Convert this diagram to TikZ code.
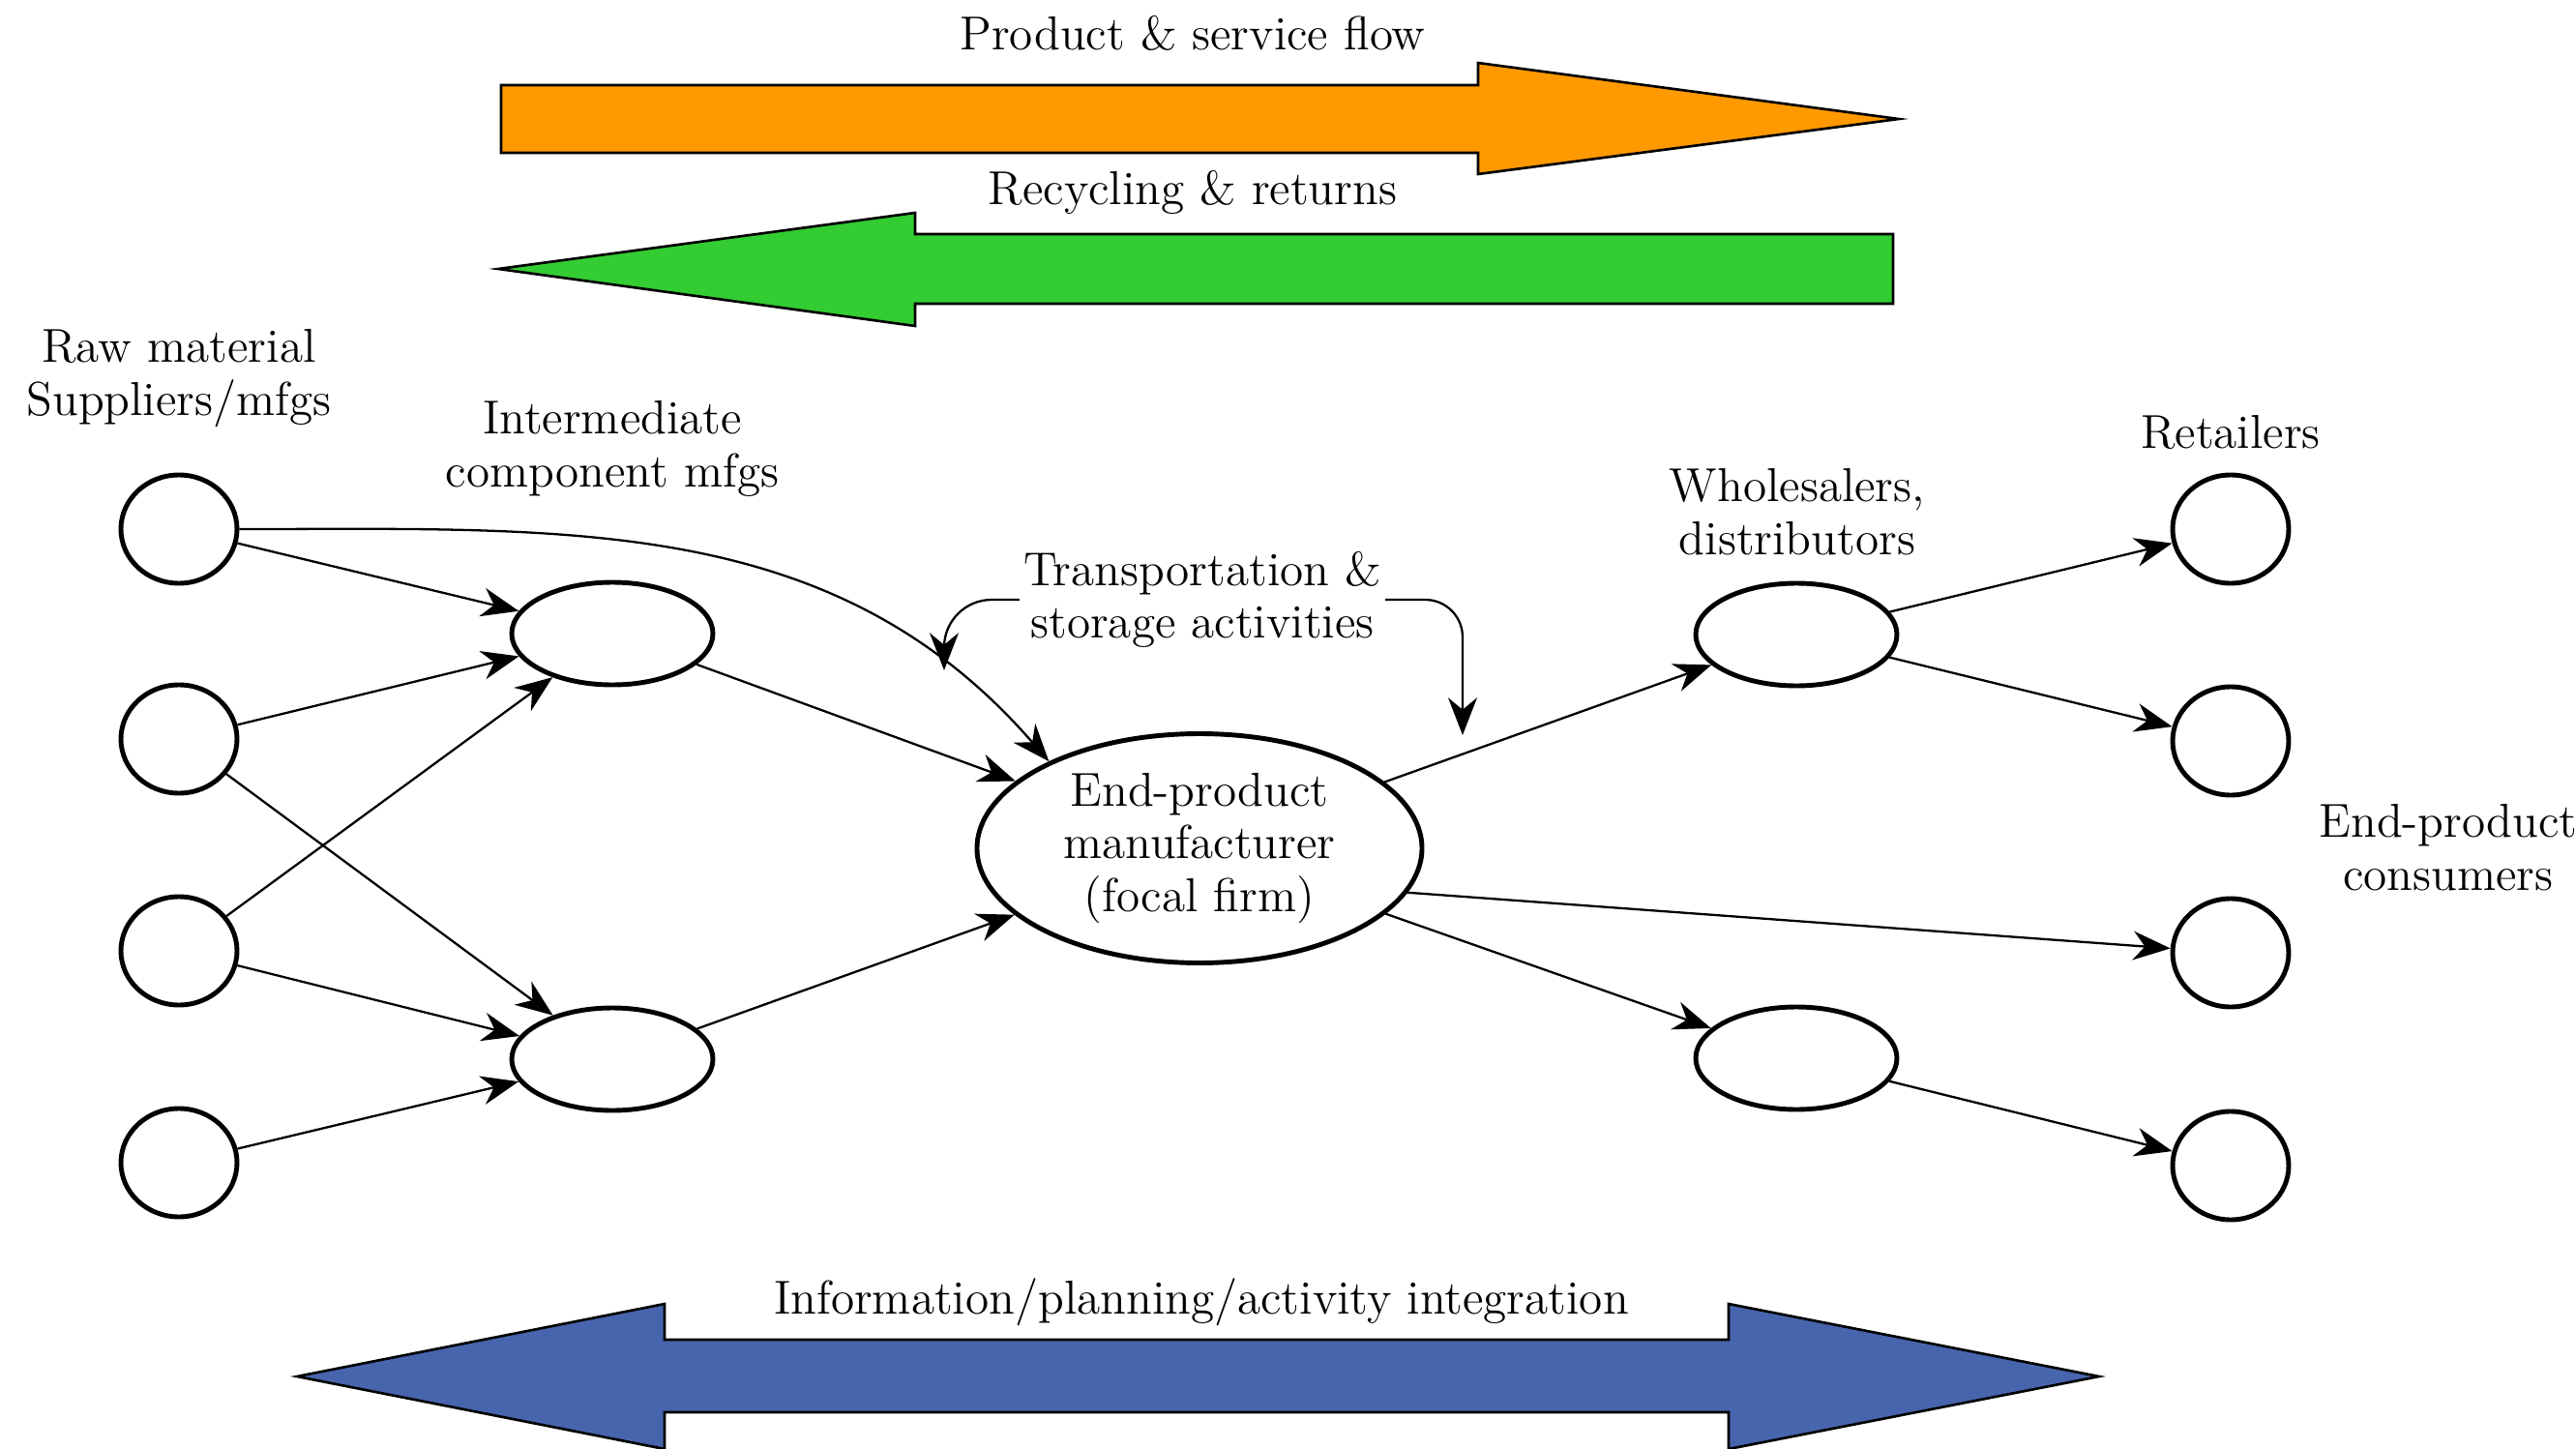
\documentclass[tikz,border=0pt]{standalone}
\usetikzlibrary{arrows.meta,shapes.geometric}
\definecolor{flowfill}{RGB}{255,153,0}
\definecolor{returnfill}{RGB}{51,204,51}
\definecolor{infofill}{RGB}{71,101,173}
\begin{document}
\begin{tikzpicture}[font=\fontsize{14}{15.5}\selectfont,
    stage/.style={draw, ellipse, line width=1.4pt, inner sep=0pt},
    small/.style={stage, minimum width=1.2cm, minimum height=1.12cm},
    mid/.style={stage, minimum width=2.08cm, minimum height=1.06cm},
    link/.style={line width=0.65pt, -{Stealth[length=11pt,width=8.5pt,inset=3.5pt]}},
    band/.style={draw, line width=0.75pt}]
    \useasboundingbox (0, 0) rectangle (26.63, -14.98);

    \draw[band, fill=flowfill] (5.18, -0.88) -- (15.28, -0.88) -- (15.28, -0.65) -- (19.63, -1.23) -- (15.28, -1.80) -- (15.28, -1.58) -- (5.18, -1.58) -- cycle;
    \draw[band, fill=returnfill] (19.57, -2.42) -- (9.46, -2.42) -- (9.46, -2.20) -- (5.15, -2.78) -- (9.46, -3.37) -- (9.46, -3.14) -- (19.57, -3.14) -- cycle;
    \draw[band, fill=infofill] (3.07, -14.23) -- (6.87, -13.48) -- (6.87, -13.85) -- (17.87, -13.85) -- (17.87, -13.48) -- (21.70, -14.23) -- (17.87, -14.98) -- (17.87, -14.60) -- (6.87, -14.60) -- (6.87, -14.98) -- cycle;
    \node[anchor=base] (flow) at (12.33, -0.52) {Product \& service flow};
    \node[anchor=base] (returns) at (12.33, -2.11) {Recycling \& returns};
    \node[anchor=base] (info) at (12.42, -13.58) {Information/planning/activity integration};

    \node[small] (s1) at (1.85, -5.47) {};
    \node[small] (s2) at (1.85, -7.64) {};
    \node[small] (s3) at (1.85, -9.83) {};
    \node[small] (s4) at (1.85, -12.02) {};
    \node[mid] (c1) at (6.33, -6.55) {};
    \node[mid] (c2) at (6.33, -10.95) {};
    \node[stage, minimum width=4.6cm, minimum height=2.37cm, align=center] (focal) at (12.40, -8.77) {End-product\\manufacturer\\(focal firm)};
    \node[mid] (d1) at (18.57, -6.56) {};
    \node[mid] (d2) at (18.57, -10.94) {};
    \node[small] (r1) at (23.06, -5.47) {};
    \node[small] (r2) at (23.06, -7.66) {};
    \node[small] (r3) at (23.06, -9.85) {};
    \node[small] (r4) at (23.06, -12.05) {};

    \node[align=center] (rawlbl) at (1.85, -3.91) {Raw material\\Suppliers/mfgs};
    \node[align=center] (complbl) at (6.33, -4.64) {Intermediate\\component mfgs};
    \node[align=center, inner sep=1pt] (translbl) at (12.43, -6.20) {Transportation \&\\storage activities};
    \node[align=center] (distlbl) at (18.58, -5.29) {Wholesalers,\\distributors};
    \node[anchor=base] (retlbl) at (23.06, -4.63) {Retailers};
    \node[align=center] (conslbl) at (25.31, -8.76) {End-product\\consumers};

    \draw[link] (s1) -- (c1);
    \draw[link] (s2) -- (c1);
    \draw[link] (s3) -- (c1);
    \draw[link] (s2) -- (c2);
    \draw[link] (s3) -- (c2);
    \draw[link] (s4) -- (c2);
    \draw[link] (s1.east) to[out=0, in=131] (focal.150);
    \draw[link] (c1) -- (focal);
    \draw[link] (c2) -- (focal);

    \draw[link] (focal) -- (d1);
    \draw[link] (focal.-12) -- (r3);
    \draw[link] (focal) -- (d2);
    \draw[link] (d1) -- (r1);
    \draw[link] (d1) -- (r2);
    \draw[link] (d2) -- (r4);

    \coordinate (stockin) at (9.76, -6.93);
    \coordinate (stockout) at (15.12, -7.60);
    \draw[link, rounded corners=14pt] (translbl.west) -| (stockin);
    \draw[link, rounded corners=11pt] (translbl.east) -| (stockout);
\end{tikzpicture}
\end{document}
